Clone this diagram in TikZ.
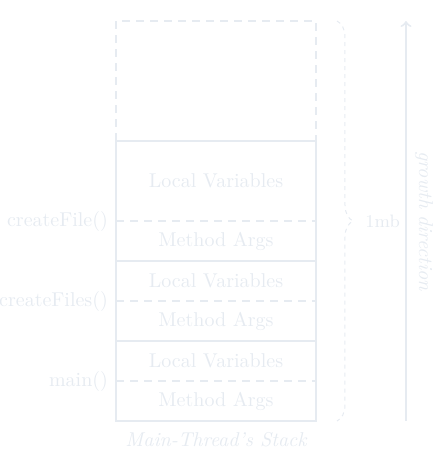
\documentclass[tikz,border=0pt]{standalone}
\usetikzlibrary{arrows, positioning, calc, decorations.pathreplacing}
\definecolor{stackgray}{HTML}{E6EBF1}
\tikzset{
    slot/.style = {minimum width=100pt, minimum height=20pt, inner sep=0pt, outer sep=0pt, text=stackgray},
    stackframe/.style = {draw=stackgray, line width=1pt},
    splitline/.style = {draw=stackgray, line width=1pt, dash pattern=on 4pt off 3pt},
    caller/.style = {anchor=east, text=stackgray},
    brc/.style = {draw=stackgray, line width=0.5pt, dash pattern=on 2pt off 2pt, decorate, decoration={brace, amplitude=8pt}},
    growline/.style = {draw=stackgray, line width=1pt, ->},
}

\begin{document}
\begin{tikzpicture}[x=0.5pt,y=-0.5pt]
\useasboundingbox (0,0) rectangle (434,452);

% the stack, bottom to top
\node[slot] (args3) at (216,401) {Method Args};
\node[slot, above=0pt of args3] (locals3) {Local Variables};
\node[slot, above=0pt of locals3] (args2) {Method Args};
\node[slot, above=0pt of args2] (locals2) {Local Variables};
\node[slot, above=0pt of locals2] (args1) {Method Args};
\node[slot, minimum height=40pt, above=0pt of args1] (locals1) {Local Variables};
\node[slot, minimum height=60pt, above=0pt of locals1] (free) {};

\draw[splitline] (free.south west) -- (free.north west) -- (free.north east) -- (free.south east);

\draw[stackframe] (locals1.north west) rectangle (args1.south east);
\draw[splitline] (args1.north west) -- (args1.north east);
\draw[stackframe] (locals2.north west) rectangle (args2.south east);
\draw[splitline] (args2.north west) -- (args2.north east);
\draw[stackframe] (locals3.north west) rectangle (args3.south east);
\draw[splitline] (args3.north west) -- (args3.north east);

\node[caller] (call1) at ([xshift=-0.5pt]args1.north west) {createFile()};
\node[caller] (call2) at ([xshift=-0.5pt]args2.north west) {createFiles()};
\node[caller] (call3) at ([xshift=-0.5pt]args3.north west) {main()};

\node[below=2pt of args3, text=stackgray] (title) {\itshape Main-Thread's Stack};

% size of the stack
\coordinate (btop) at ([xshift=10.5pt]free.north east);
\coordinate (bbot) at ([xshift=10.5pt]args3.south east);
\draw[brc] (btop) -- (bbot);
\node[anchor=west, inner sep=0pt, text=stackgray, font=\small] (size) at ($(btop)!0.5!(bbot)+(14pt,0)$) {1mb};

% growth direction
\coordinate (gbot) at (406,421);
\coordinate (gtop) at (406,21);
\draw[growline] (gbot) -- (gtop) node[midway, anchor=south, rotate=-90, text=stackgray, inner sep=4pt] (dir) {\itshape growth direction};

\end{tikzpicture}
\end{document}
